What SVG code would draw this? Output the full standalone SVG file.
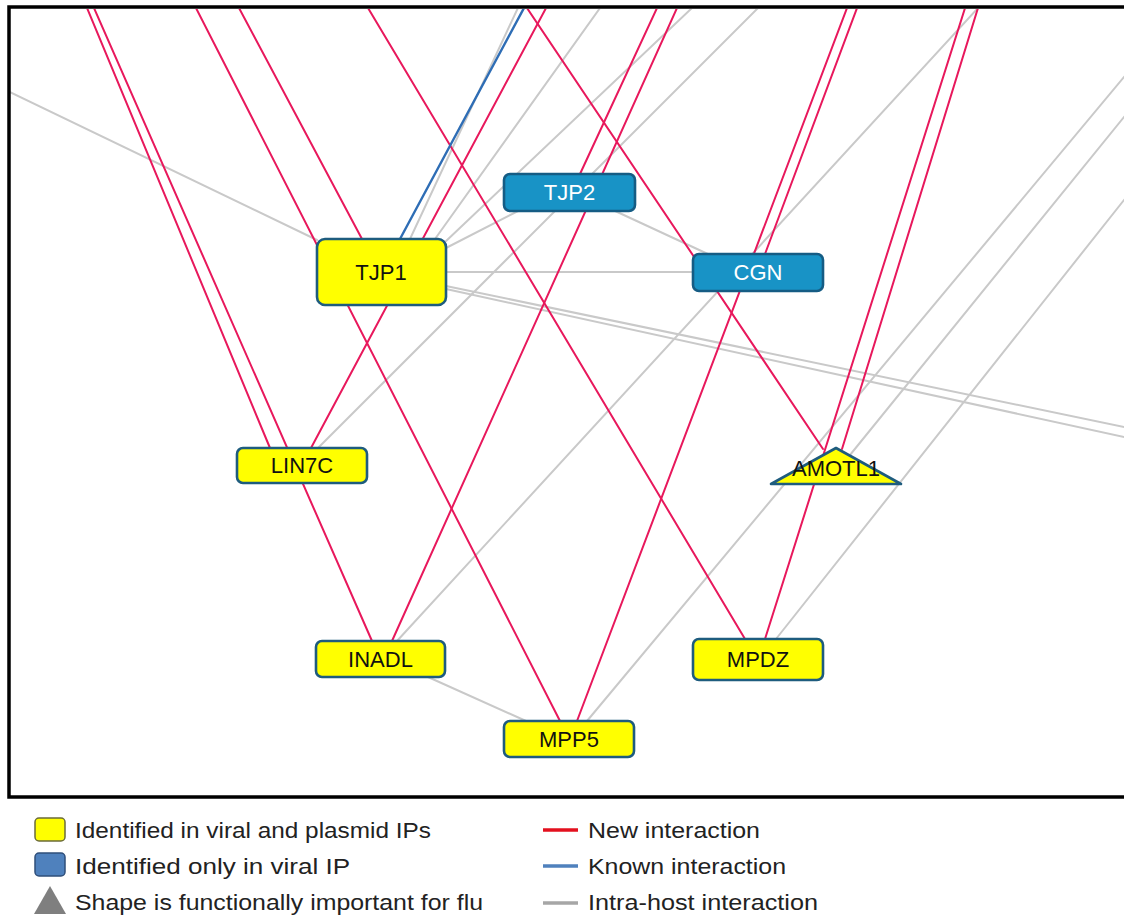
<svg xmlns="http://www.w3.org/2000/svg" width="1124" height="916" viewBox="0 0 1124 916">
<style>
.e{fill:none;stroke-width:2;stroke-linecap:round}
.p{stroke:#E8185C}
.b{stroke:#2E6DB5;stroke-width:2.4}
.g{stroke:#C9C9C9}
.ny rect,.ny polygon{fill:#FFFF00;stroke:#1E5C7E;stroke-width:2.6}
.nb rect{fill:#1893C6;stroke:#155C84;stroke-width:2.6}
.t{font-family:"Liberation Sans",Arial,sans-serif;font-size:22px;text-anchor:middle}
.ny text{fill:#111}
.nb text{fill:#fff}
.lg{font-family:"Liberation Sans",Arial,sans-serif;font-size:22px;fill:#222}
</style>
<defs>
<clipPath id="frame"><rect x="10" y="9" width="1120" height="786"/></clipPath>
</defs>
<rect x="0" y="0" width="1124" height="916" fill="#fff"/>
<g id="connectors" clip-path="url(#frame)">
<g id="intra-host">
<line class="e g" x1="0" y1="87.2" x2="317" y2="240"/>
<line class="e g" x1="531" y1="-20" x2="410" y2="239"/>
<line class="e g" x1="620" y1="-20" x2="435" y2="239"/>
<line class="e g" x1="721.5" y1="-20" x2="444" y2="243"/>
<line class="e g" x1="446" y1="248" x2="520" y2="210"/>
<line class="e g" x1="446" y1="272" x2="693" y2="272"/>
<line class="e g" x1="446" y1="286" x2="1150" y2="432.4"/>
<line class="e g" x1="446" y1="289" x2="1150" y2="442.7"/>
<line class="e g" x1="786" y1="-20" x2="318" y2="448"/>
<line class="e g" x1="613" y1="210" x2="710" y2="255"/>
<line class="e g" x1="1003.7" y1="-20" x2="397" y2="641"/>
<line class="e g" x1="428" y1="677" x2="526" y2="721"/>
<line class="e g" x1="1150" y1="45.8" x2="587" y2="721"/>
<line class="e g" x1="1150" y1="84.9" x2="850" y2="455"/>
<line class="e g" x1="1150" y1="167.2" x2="776" y2="639"/>
</g>
<g id="new">
<line class="e p" x1="75.4" y1="-20" x2="270" y2="448"/>
<line class="e p" x1="81.7" y1="-20" x2="372" y2="641"/>
<line class="e p" x1="181.7" y1="-20" x2="560" y2="721"/>
<line class="e p" x1="224.1" y1="-20" x2="362" y2="239"/>
<line class="e p" x1="351.3" y1="-20" x2="745" y2="639"/>
<line class="e p" x1="561" y1="-20" x2="311" y2="448"/>
<line class="e p" x1="508.2" y1="-20" x2="823" y2="449"/>
<line class="e p" x1="670" y1="-20" x2="580" y2="174"/>
<line class="e p" x1="689.6" y1="-20" x2="392" y2="641"/>
<line class="e p" x1="857.6" y1="-20" x2="577" y2="721"/>
<line class="e p" x1="867.5" y1="-20" x2="765" y2="254"/>
<line class="e p" x1="973.9" y1="-20" x2="765" y2="639"/>
<line class="e p" x1="986.6" y1="-20" x2="842" y2="449"/>
</g>
<g id="known">
<line class="e b" x1="539" y1="-20" x2="400" y2="239"/>
</g>
</g>
<g id="TJP1" class="ny"><rect x="317" y="239" width="129" height="66" rx="8"/><text class="t" x="381" y="280">TJP1</text></g>
<g id="TJP2" class="nb"><rect x="504" y="174" width="131" height="37" rx="6"/><text class="t" x="569.5" y="200">TJP2</text></g>
<g id="CGN" class="nb"><rect x="693" y="254" width="130" height="37" rx="6"/><text class="t" x="758" y="280">CGN</text></g>
<g id="LIN7C" class="ny"><rect x="237" y="448" width="130" height="35" rx="6"/><text class="t" x="302" y="473">LIN7C</text></g>
<g id="AMOTL1" class="ny"><polygon points="836,448 901,484 771,484" stroke-linejoin="round"/><text class="t" x="836" y="476">AMOTL1</text></g>
<g id="INADL" class="ny"><rect x="316" y="641" width="129" height="36" rx="6"/><text class="t" x="380.5" y="667">INADL</text></g>
<g id="MPDZ" class="ny"><rect x="693" y="639" width="130" height="41" rx="6"/><text class="t" x="758" y="667">MPDZ</text></g>
<g id="MPP5" class="ny"><rect x="504" y="721" width="130" height="36" rx="6"/><text class="t" x="569" y="747">MPP5</text></g>
<rect id="frame-border" x="9" y="7" width="1140" height="790" fill="none" stroke="#000" stroke-width="3.5"/>
<g id="legend">
<rect x="35" y="818" width="30" height="23" rx="4" fill="#FFFF00" stroke="#6b6b3a" stroke-width="1.5"/>
<text class="lg" x="75" y="838" textLength="356" lengthAdjust="spacingAndGlyphs">Identified in viral and plasmid IPs</text>
<rect x="35" y="853" width="30" height="23" rx="4" fill="#4F81BD" stroke="#2f4f7a" stroke-width="1.5"/>
<text class="lg" x="75" y="874" textLength="275" lengthAdjust="spacingAndGlyphs">Identified only in viral IP</text>
<polygon points="50,886 66,914 34,914" fill="#7F7F7F"/>
<text class="lg" x="75" y="910" textLength="408" lengthAdjust="spacingAndGlyphs">Shape is functionally important for flu</text>
<line x1="543" y1="830" x2="578" y2="830" stroke="#E3101E" stroke-width="3.5"/>
<text class="lg" x="588" y="838" textLength="172" lengthAdjust="spacingAndGlyphs">New interaction</text>
<line x1="543" y1="866" x2="578" y2="866" stroke="#4F81BD" stroke-width="3.5"/>
<text class="lg" x="588" y="874" textLength="198" lengthAdjust="spacingAndGlyphs">Known interaction</text>
<line x1="543" y1="903" x2="578" y2="903" stroke="#A6A6A6" stroke-width="3.5"/>
<text class="lg" x="588" y="910" textLength="230" lengthAdjust="spacingAndGlyphs">Intra-host interaction</text>
</g>
</svg>
